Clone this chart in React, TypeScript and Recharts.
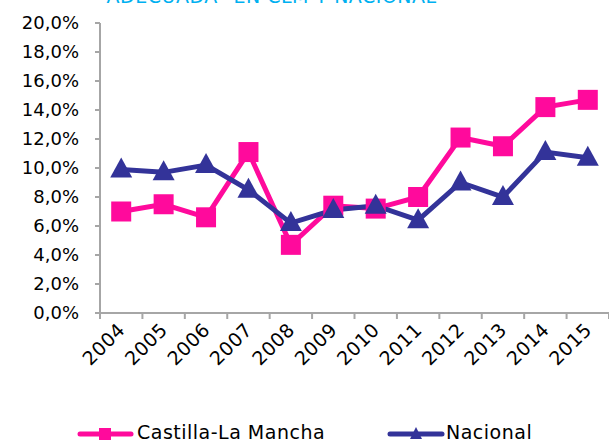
import React from "react";
import { LineChart, Line, XAxis, YAxis, Legend } from "recharts";

const years = ["2004", "2005", "2006", "2007", "2008", "2009", "2010", "2011", "2012", "2013", "2014", "2015"];
const clm = [7.0, 7.5, 6.6, 11.1, 4.7, 7.4, 7.2, 8.0, 12.1, 11.5, 14.2, 14.7];
const nacional = [9.9, 9.7, 10.2, 8.5, 6.2, 7.1, 7.4, 6.4, 9.0, 8.0, 11.1, 10.7];
const yTicks = [0, 2, 4, 6, 8, 10, 12, 14, 16, 18, 20];
const xTicks = [0, 1, 2, 3, 4, 5, 6, 7, 8, 9, 10, 11, 12];

const PINK = "#FF0A9C";
const NAVY = "#333399";
const AXIS = "#A6A6A6";
const FONT = "'DejaVu Sans', Verdana, sans-serif";

const data = years.map((y, i) => ({ x: i + 0.5, year: y, clm: clm[i], nacional: nacional[i] }));

const fmt = (v: number) => v.toFixed(1).replace(".", ",") + "%";

const YearTick = ({ x, y, payload }: any) => {
  const label = years[payload.value];
  if (!label) return null;
  const cx = x + 509 / 24 + 5;
  const cy = y + 10;
  return (
    <text
      x={cx}
      y={cy}
      textAnchor="end"
      fontSize={19}
      fill="#000"
      fontFamily={FONT}
      letterSpacing={0.5}
      transform={`rotate(-45 ${cx} ${cy})`}
    >
      {label}
    </text>
  );
};

const SquareDot = ({ cx, cy }: any) => (
  <rect x={cx - 10} y={cy - 10} width={20} height={20} fill={PINK} />
);

const TriangleDot = ({ cx, cy }: any) => (
  <polygon points={`${cx},${cy - 12} ${cx + 11},${cy + 8} ${cx - 11},${cy + 8}`} fill={NAVY} />
);

const LegendContent = () => (
  <div style={{ position: "relative", height: 30, fontFamily: FONT, fontSize: 19, letterSpacing: 0.5, color: "#000" }}>
    <svg width={609} height={30} style={{ position: "absolute", left: 0, top: 0 }}>
      <line x1={80} y1={21} x2={131} y2={21} stroke={PINK} strokeWidth={5} strokeLinecap="round" />
      <rect x={99} y={15} width={12} height={12} fill={PINK} />
      <line x1={390} y1={21} x2={442} y2={21} stroke={NAVY} strokeWidth={5} strokeLinecap="round" />
      <polygon points="416,14 422,26 410,26" fill={NAVY} />
    </svg>
    <span style={{ position: "absolute", left: 137, top: 8 }}>Castilla-La Mancha</span>
    <span style={{ position: "absolute", left: 446, top: 8 }}>Nacional</span>
  </div>
);

export default function App() {
  return (
    <div style={{ position: "absolute", left: 0, top: 0, width: 609, height: 443, background: "#fff" }}>
      <LineChart width={609} height={443} data={data} margin={{ top: 23, right: 0, bottom: 0, left: 0 }}>
        <text x={267} y={3} textAnchor="middle" fontSize={19} letterSpacing={0.5} fill="#00B0F0" fontFamily={FONT}>
          "ADECUADA" EN CLM Y NACIONAL
        </text>
        <XAxis
          dataKey="x"
          type="number"
          domain={[0, 12]}
          ticks={xTicks}
          interval={0}
          height={100}
          stroke={AXIS}
          strokeWidth={2}
          tickSize={6}
          tick={<YearTick />}
        />
        <YAxis
          domain={[0, 20]}
          ticks={yTicks}
          interval={0}
          width={100}
          stroke={AXIS}
          strokeWidth={2}
          tickSize={5}
          tickMargin={16}
          tickFormatter={fmt}
          tick={{ fill: "#000", fontSize: 18, fontFamily: FONT }}
        />
        <Legend verticalAlign="bottom" height={30} content={<LegendContent />} />
        <Line dataKey="clm" stroke={PINK} strokeWidth={5} dot={<SquareDot />} isAnimationActive={false} />
        <Line dataKey="nacional" stroke={NAVY} strokeWidth={5} dot={<TriangleDot />} isAnimationActive={false} />
      </LineChart>
    </div>
  );
}
